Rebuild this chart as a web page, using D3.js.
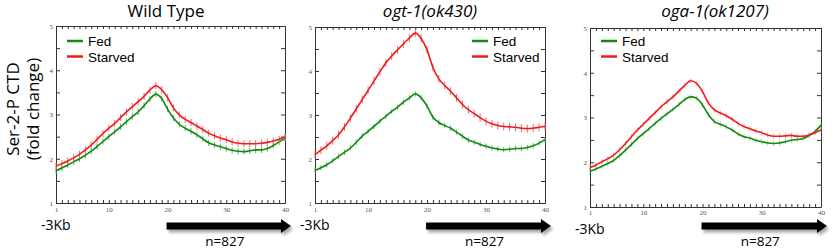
<!DOCTYPE html>
<html>
<head>
<meta charset="utf-8">
<script src="https://cdn.jsdelivr.net/npm/d3@7"></script>
<style>
  body { margin: 0; background: #fff; }
  svg { display: block; font-family: "Open Sans", sans-serif; }
  .tick text { font-family: "Liberation Serif", serif; font-size: 7px; fill: #555; }
  .tick line, .domain { stroke: #333; }
</style>
</head>
<body>
<script>
// bins langs de x-as (1 = -3Kb, 20 = TSS)
const bins = d3.range(1, 41)
const xLabels = [1, 10, 20, 30, 40]
const yTicks = [1, 1.5, 2, 2.5, 3, 3.5, 4, 4.5, 5]
const yLabels = [1, 2, 3, 4, 5]

// Wild Type
const wtFed = [1.73, 1.79, 1.86, 1.93, 2.00, 2.08, 2.17, 2.28, 2.39, 2.50, 2.61, 2.72, 2.84, 2.95, 3.06, 3.20, 3.35, 3.46, 3.36, 3.12,
  2.92, 2.78, 2.69, 2.62, 2.54, 2.45, 2.36, 2.31, 2.27, 2.23, 2.19, 2.17, 2.16, 2.18, 2.20, 2.20, 2.23, 2.30, 2.38, 2.46]
const wtStarved = [1.84, 1.89, 1.95, 2.02, 2.10, 2.20, 2.31, 2.44, 2.57, 2.69, 2.80, 2.93, 3.06, 3.18, 3.29, 3.41, 3.55, 3.65, 3.56, 3.38,
  3.15, 2.99, 2.89, 2.82, 2.74, 2.66, 2.58, 2.52, 2.47, 2.43, 2.38, 2.35, 2.34, 2.34, 2.34, 2.35, 2.37, 2.40, 2.44, 2.49]

// ogt-1(ok430)
const ogtFed = [1.74, 1.80, 1.87, 1.96, 2.06, 2.15, 2.25, 2.38, 2.52, 2.63, 2.74, 2.86, 2.97, 3.08, 3.18, 3.29, 3.39, 3.48, 3.39, 3.20,
  2.95, 2.83, 2.76, 2.70, 2.61, 2.52, 2.43, 2.38, 2.33, 2.29, 2.25, 2.23, 2.21, 2.22, 2.24, 2.24, 2.26, 2.30, 2.36, 2.44]
const ogtStarved = [2.10, 2.20, 2.30, 2.42, 2.55, 2.73, 2.93, 3.14, 3.35, 3.56, 3.77, 3.98, 4.18, 4.34, 4.48, 4.62, 4.75, 4.86, 4.74, 4.48,
  4.08, 3.82, 3.67, 3.54, 3.39, 3.24, 3.12, 3.03, 2.94, 2.86, 2.80, 2.76, 2.74, 2.73, 2.72, 2.70, 2.69, 2.70, 2.72, 2.74]

// oga-1(ok1207)
const ogaFed = [1.80, 1.85, 1.91, 1.97, 2.04, 2.15, 2.27, 2.40, 2.53, 2.64, 2.75, 2.87, 2.98, 3.08, 3.18, 3.29, 3.40, 3.46, 3.43, 3.28,
  3.06, 2.91, 2.85, 2.79, 2.72, 2.63, 2.57, 2.54, 2.49, 2.46, 2.43, 2.42, 2.43, 2.46, 2.49, 2.51, 2.53, 2.60, 2.69, 2.83]
const ogaStarved = [1.88, 1.94, 2.01, 2.08, 2.16, 2.28, 2.42, 2.57, 2.72, 2.85, 2.98, 3.11, 3.24, 3.35, 3.46, 3.59, 3.72, 3.82, 3.76, 3.58,
  3.32, 3.17, 3.10, 3.04, 2.96, 2.87, 2.80, 2.75, 2.70, 2.66, 2.61, 2.58, 2.58, 2.59, 2.60, 2.58, 2.58, 2.61, 2.66, 2.72]

// halve lengte van de foutbalken per paneel [fed, starved]
const errWt = [0.07, 0.08]
const errOgt = [0.06, 0.09]
const errOga = [0.06, 0.06]

const titles = ['Wild Type', 'ogt-1(ok430)', 'oga-1(ok1207)']
const seriesNames = ['Fed', 'Starved']
const nLabel = 'n=827'
const startLabel = '-3Kb'

const green = '#108a10'
const red = '#ee1c1c'
const greenErr = '#5cb85c'
const redErr = '#ef6b6b'

// posities van de drie panelen
const panels = [
  { left: 56, right: 285, top: 26, bottom: 203, titleX: 166, italic: false, legend: 'left', startY: 230, pad: 4, fed: wtFed, starved: wtStarved, err: errWt, errOpacity: 1 },
  { left: 315, right: 545, top: 27, bottom: 203, titleX: 430, italic: true, legend: 'right', startY: 230, pad: 4, fed: ogtFed, starved: ogtStarved, err: errOgt, errOpacity: 1 },
  { left: 590, right: 821, top: 28, bottom: 207, titleX: 715, italic: true, legend: 'left', startY: 234, pad: 3, fed: ogaFed, starved: ogaStarved, err: errOga, errOpacity: 0.6 }
]

const svg = d3.select('body').append('svg').attr('width', 835).attr('height', 250)
svg.append('rect').attr('width', 835).attr('height', 250).attr('fill', '#fff')

// schaduw onder de pijl
const defs = svg.append('defs')
defs.append('filter').attr('id', 'shadow').attr('x', '-10%').attr('y', '-50%').attr('width', '130%').attr('height', '250%')
  .append('feDropShadow').attr('dx', 2).attr('dy', 3).attr('stdDeviation', 1.5).attr('flood-color', '#000').attr('flood-opacity', 0.35)

// y-as titel
const ylab = svg.append('g').attr('transform', 'translate(0,109) rotate(-90)')
ylab.append('text').attr('x', 0).attr('y', 19).attr('text-anchor', 'middle').attr('font-size', 17).text('Ser-2-P CTD')
ylab.append('text').attr('x', 0).attr('y', 39).attr('text-anchor', 'middle').attr('font-size', 17).text('(fold change)')

panels.forEach((p, i) => {
  const x = d3.scaleLinear().domain([1, 40]).range([p.left, p.right])
  const y = d3.scaleLinear().domain([1, 5]).range([p.bottom, p.top])
  const g = svg.append('g')

  // titel
  g.append('text').attr('x', p.titleX).attr('y', 17).attr('text-anchor', 'middle')
    .attr('font-size', 17).attr('font-style', p.italic ? 'italic' : 'normal').text(titles[i])

  // assen rondom (ticks naar binnen)
  g.append('g').attr('transform', `translate(0,${p.bottom})`)
    .call(d3.axisBottom(x).tickValues(bins).tickSize(-3).tickSizeOuter(0).tickPadding(p.pad)
      .tickFormat(d => (xLabels.includes(d) ? d : '')))
  g.append('g').attr('transform', `translate(0,${p.top})`)
    .call(d3.axisTop(x).tickValues(bins).tickSize(-3).tickSizeOuter(0).tickFormat(''))
  g.append('g').attr('transform', `translate(${p.left},0)`)
    .call(d3.axisLeft(y).tickValues(yTicks).tickSize(-4).tickSizeOuter(0).tickPadding(3)
      .tickFormat(d => (yLabels.includes(d) ? d : '')))
  g.append('g').attr('transform', `translate(${p.right},0)`)
    .call(d3.axisRight(y).tickValues(yTicks).tickSize(-4).tickSizeOuter(0).tickFormat(''))

  const line = d3.line().x((d, j) => x(bins[j])).y(d => y(d)).curve(d3.curveMonotoneX)

  const series = [
    { values: p.fed, color: green, errColor: greenErr, err: p.err[0] },
    { values: p.starved, color: red, errColor: redErr, err: p.err[1] }
  ]

  series.forEach(s => {
    // foutbalken
    g.append('g').selectAll('line').data(s.values).join('line')
      .attr('x1', (d, j) => x(bins[j])).attr('x2', (d, j) => x(bins[j]))
      .attr('y1', d => y(d - s.err)).attr('y2', d => y(d + s.err))
      .attr('stroke', s.errColor).attr('stroke-width', 1).attr('opacity', p.errOpacity)
    g.append('path').datum(s.values).attr('d', line)
      .attr('fill', 'none').attr('stroke', s.color).attr('stroke-width', 1.6)
  })

  // legenda
  const lx = p.legend === 'left' ? p.left + 11 : p.right - 73
  const leg = g.append('g')
  series.forEach((s, k) => {
    const ly = 41 + k * 15.5
    leg.append('line').attr('x1', lx).attr('x2', lx + 16).attr('y1', ly).attr('y2', ly)
      .attr('stroke', s.color).attr('stroke-width', 2.5)
    leg.append('text').attr('x', lx + 21).attr('y', ly + 5).attr('font-family', '"Liberation Sans", Arial, sans-serif')
      .attr('font-size', 13.5).text(seriesNames[k])
  })

  // -3Kb en pijl vanaf de TSS
  g.append('text').attr('x', p.left - 15).attr('y', p.startY).attr('font-size', 14).text(startLabel)
  const ay = 226
  const ax0 = x(20) - 1
  const ax1 = x(40) + 6
  g.append('path')
    .attr('d', `M${ax0},${ay - 3.5}H${ax1 - 10}V${ay - 7}L${ax1},${ay}L${ax1 - 10},${ay + 7}V${ay + 3.5}H${ax0}Z`)
    .attr('fill', '#000').attr('filter', 'url(#shadow)')
  g.append('text').attr('x', (ax0 + ax1) / 2 - 4).attr('y', 246).attr('text-anchor', 'middle')
    .attr('font-size', 13.5).text(nLabel)
})
</script>
</body>
</html>
